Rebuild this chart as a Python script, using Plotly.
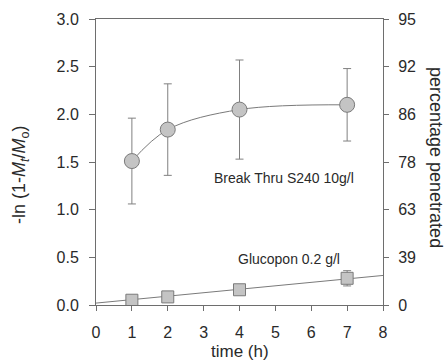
import plotly.graph_objects as go

time_h = [1, 2, 4, 7]
breakthru = [1.51, 1.84, 2.05, 2.10]
breakthru_err = [0.45, 0.48, 0.52, 0.38]
glucopon = [0.05, 0.085, 0.16, 0.28]
glucopon_err = [0.01, 0.01, 0.01, 0.08]
fit_x = [0, 8]
fit_y = [0.02, 0.31]
left_ticks = [0.0, 0.5, 1.0, 1.5, 2.0, 2.5, 3.0]
left_labels = ["0.0", "0.5", "1.0", "1.5", "2.0", "2.5", "3.0"]
right_labels = ["0", "39", "63", "78", "86", "92", "95"]
x_ticks = [0, 1, 2, 3, 4, 5, 6, 7, 8]

AX = "#6e6e6e"
TXT = "#2a2a2a"
FILL = "#c4c4c4"
EDGE = "#7a7a7a"
FONT = "Liberation Sans, Arial, sans-serif"

W, H = 448, 360
L, R, T, B = 96, 65, 19, 55
PW, PH = W - L - R, H - T - B


def px(xp):
    return (xp - L) / PW


def py(yp):
    return (H - B - yp) / PH


fig = go.Figure()

fig.add_trace(go.Scatter(x=time_h, y=breakthru, mode="lines",
                         line=dict(color=EDGE, width=1, shape="spline", smoothing=1.0),
                         hoverinfo="skip", showlegend=False))
fig.add_trace(go.Scatter(x=time_h, y=breakthru, mode="markers",
                         marker=dict(symbol="circle", size=15, color=FILL,
                                     line=dict(color=EDGE, width=1)),
                         error_y=dict(type="data", array=breakthru_err, color="#808080",
                                      thickness=1, width=4),
                         showlegend=False))
fig.add_trace(go.Scatter(x=fit_x, y=fit_y, mode="lines",
                         line=dict(color=EDGE, width=1),
                         hoverinfo="skip", showlegend=False))
fig.add_trace(go.Scatter(x=time_h, y=glucopon, mode="markers",
                         marker=dict(symbol="square", size=12, color=FILL,
                                     line=dict(color=EDGE, width=1)),
                         error_y=dict(type="data", array=glucopon_err, color="#808080",
                                      thickness=1, width=4),
                         showlegend=False))
fig.add_trace(go.Scatter(x=[0], y=[0], yaxis="y2", mode="markers",
                         marker=dict(opacity=0), hoverinfo="skip", showlegend=False))


def ann(text, xp, yp, size, angle=0):
    return dict(text=text, x=px(xp), y=py(yp), xref="paper", yref="paper",
                showarrow=False, textangle=angle, xanchor="center", yanchor="middle",
                font=dict(family=FONT, size=size, color=TXT))


fig.update_layout(
    width=W, height=H,
    margin=dict(l=L, r=R, t=T, b=B, autoexpand=False),
    paper_bgcolor="white", plot_bgcolor="white",
    font=dict(family=FONT, color=TXT, size=16),
    xaxis=dict(range=[0, 8], tickvals=x_ticks, showgrid=False, zeroline=False,
               showline=True, linecolor=AX, linewidth=1, mirror=True,
               ticks="outside", ticklen=5, tickcolor=AX, tickwidth=1,
               ticklabelstandoff=8, automargin=False,
               tickfont=dict(size=16, color=TXT)),
    yaxis=dict(range=[0, 3], tickvals=left_ticks, ticktext=left_labels,
               showgrid=False, zeroline=False,
               showline=True, linecolor=AX, linewidth=1, mirror=True,
               ticks="outside", ticklen=6, tickcolor=AX, tickwidth=1,
               ticklabelstandoff=7, automargin=False,
               tickfont=dict(size=16, color=TXT)),
    yaxis2=dict(range=[0, 3], tickvals=left_ticks, ticktext=right_labels,
                overlaying="y", side="right", showgrid=False, zeroline=False,
                showline=True, linecolor=AX, linewidth=1,
                ticks="outside", ticklen=5, tickcolor=AX, tickwidth=1,
                ticklabelstandoff=6, automargin=False,
                tickfont=dict(size=16, color=TXT)),
    annotations=[
        ann("Break Thru S240 10g/l", 284, 178, 14),
        ann("Glucopon 0.2 g/l", 289, 259, 14),
        ann("time (h)", 240, 351, 17),
        ann("-ln (1-<i>M</i><sub><i>t</i></sub>/<i>M</i><sub>o</sub>)", 20, 175, 18, -90),
        ann("percentage penetrated", 436, 157, 18, 90),
    ],
)

fig.write_html("out.html", config={"displayModeBar": False},
               post_script="document.body.style.margin='0';document.body.style.padding='0';")
